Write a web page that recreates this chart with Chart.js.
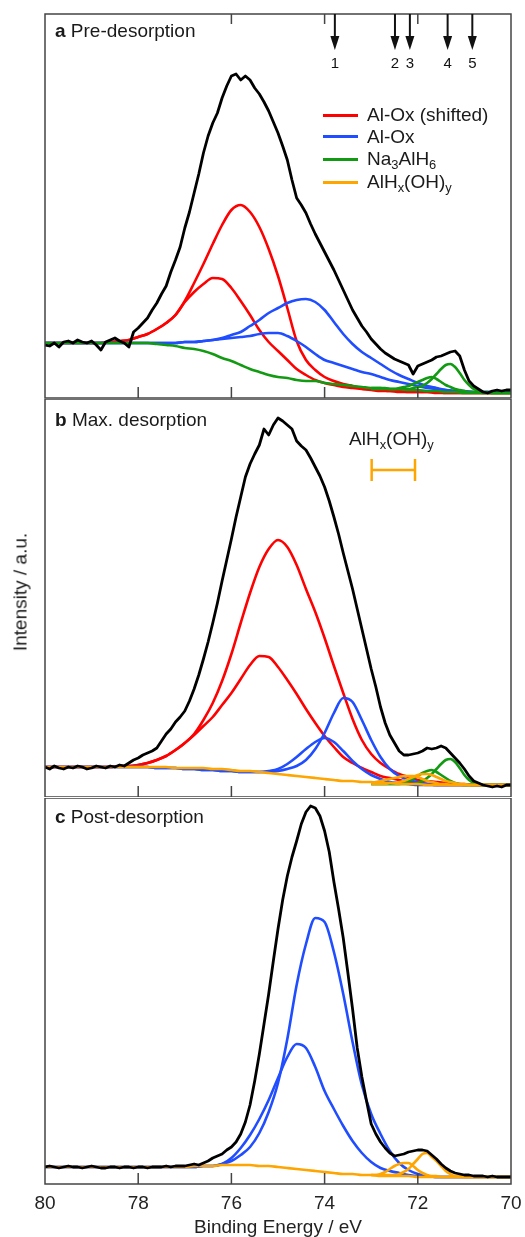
<!DOCTYPE html>
<html>
<head>
<meta charset="utf-8">
<script src="https://cdn.jsdelivr.net/npm/chart.js@4.4.1/dist/chart.umd.min.js"></script>
<style>
  body { margin: 0; background: #fff; }
  #fig { position: relative; width: 525px; height: 1237px; overflow: hidden;
         font-family: "Liberation Sans", Arial, sans-serif; color: #1a1a1a; }
  #fig canvas { position: absolute; left: 0; }
  .lbl { position: absolute; font-size: 19px; line-height: 19px; white-space: nowrap; }
  .lbl sub { font-size: 0.68em; vertical-align: -0.3em; line-height: 0; }
  .key { position: absolute; left: 323px; width: 35px; height: 3px; }
  #ytitle { position: absolute; left: 20px; top: 592px; transform: translate(-50%, -50%) rotate(-90deg); }
</style>
</head>
<body>
<div id="fig">
  <canvas id="panelA" width="525" height="399" style="top:0px"></canvas>
  <canvas id="panelB" width="525" height="398" style="top:399px"></canvas>
  <canvas id="panelC" width="525" height="439" style="top:798px"></canvas>

  <div class="lbl" style="left:55px;top:21px"><b>a</b> Pre-desorption</div>
  <div class="lbl" style="left:55px;top:410px"><b>b</b> Max. desorption</div>
  <div class="lbl" style="left:55px;top:807px"><b>c</b> Post-desorption</div>

  <div class="key" style="top:114px;background:#ff0000"></div>
  <div class="key" style="top:135px;background:#1f4dff"></div>
  <div class="key" style="top:158px;background:#139a13"></div>
  <div class="key" style="top:181px;background:#ffa500"></div>
  <div class="lbl" style="left:367px;top:105px">Al-Ox (shifted)</div>
  <div class="lbl" style="left:367px;top:127px">Al-Ox</div>
  <div class="lbl" style="left:367px;top:149px">Na<sub>3</sub>AlH<sub>6</sub></div>
  <div class="lbl" style="left:367px;top:172px">AlH<sub>x</sub>(OH)<sub>y</sub></div>

  <div class="lbl" style="left:349px;top:429px">AlH<sub>x</sub>(OH)<sub>y</sub></div>
  <div class="lbl" id="ytitle">Intensity / a.u.</div>
</div>

<script>
// binding energies (eV)
const spectrumE = [
  80.0, 79.9, 79.8, 79.7, 79.6, 79.5, 79.4, 79.3, 79.2, 79.1,
  79.0, 78.9, 78.8, 78.7, 78.6, 78.5, 78.4, 78.3, 78.2, 78.1,
  78.0, 77.9, 77.8, 77.7, 77.6, 77.5, 77.4, 77.3, 77.2, 77.1,
  77.0, 76.9, 76.8, 76.7, 76.6, 76.5, 76.4, 76.3, 76.2, 76.1,
  76.0, 75.9, 75.8, 75.7, 75.6, 75.5, 75.4, 75.3, 75.2, 75.1,
  75.0, 74.9, 74.8, 74.7, 74.6, 74.5, 74.4, 74.3, 74.2, 74.1,
  74.0, 73.9, 73.8, 73.7, 73.6, 73.5, 73.4, 73.3, 73.2, 73.1,
  73.0, 72.9, 72.8, 72.7, 72.6, 72.5, 72.4, 72.3, 72.2, 72.1,
  72.0, 71.9, 71.8, 71.7, 71.6, 71.5, 71.4, 71.3, 71.2, 71.1,
  71.0, 70.9, 70.8, 70.7, 70.6, 70.5, 70.4, 70.3, 70.2, 70.1,
  70.0
];
const fitE = [
  80.0, 79.8, 79.6, 79.4, 79.2, 79.0, 78.8, 78.6, 78.4, 78.2,
  78.0, 77.8, 77.6, 77.4, 77.2, 77.0, 76.8, 76.6, 76.4, 76.2,
  76.0, 75.8, 75.6, 75.4, 75.2, 75.0, 74.8, 74.6, 74.4, 74.2,
  74.0, 73.8, 73.6, 73.4, 73.2, 73.0, 72.8, 72.6, 72.4, 72.2,
  72.0, 71.8, 71.6, 71.4, 71.2, 71.0, 70.8, 70.6, 70.4, 70.2,
  70.0
];
const tailE = [
  73.0, 72.9, 72.8, 72.7, 72.6, 72.5, 72.4, 72.3, 72.2, 72.1,
  72.0, 71.9, 71.8, 71.7, 71.6, 71.5, 71.4, 71.3, 71.2, 71.1,
  71.0, 70.9, 70.8, 70.7, 70.6, 70.5, 70.4, 70.3, 70.2, 70.1,
  70.0
];

// a: pre-desorption
const measuredA = [
  53, 52, 55, 51, 56, 57, 55, 58, 56, 55,
  57, 53, 48, 56, 58, 60, 57, 55, 51, 66,
  70, 75, 80, 88, 95, 104, 112, 126, 138, 151,
  170, 186, 205, 224, 245, 262, 275, 285, 300, 312,
  322, 324, 318, 322, 318, 310, 304, 296, 287, 276,
  265, 252, 238, 218, 200, 193, 185, 174, 164, 155,
  146, 137, 128, 118, 108, 98, 88, 80, 72, 66,
  59, 54, 49, 45, 42, 39, 37, 35, 33, 24,
  32, 34, 36, 38, 41, 42, 44, 46, 47, 42,
  28, 17, 12, 9, 6, 5, 7, 8, 7, 8,
  8
];
const shifted1A = [
  55, 55, 55, 55, 55, 55, 55, 56, 57, 58,
  61, 64, 69, 75, 83, 97, 115, 134, 154, 173,
  188, 193, 186, 171, 149, 122, 90, 57, 38, 28,
  21, 17, 14, 12, 10, 9, 8, 7, 7, 6,
  6, 6, 6, 5, 5, 5, 5, 5, 5, 5,
  5
];
const shifted2A = [
  55, 55, 55, 55, 55, 55, 55, 56, 57, 58,
  61, 64, 69, 75, 83, 96, 106, 114, 120, 119,
  110, 97, 83, 68, 56, 47, 38, 29, 23, 18,
  15, 13, 11, 10, 9, 8, 7, 7, 6, 6,
  6, 6, 5, 5, 5, 5, 5, 5, 5, 5,
  5
];
const oxide1A = [
  55, 55, 55, 55, 55, 55, 55, 55, 55, 55,
  55, 55, 55, 55, 55, 56, 56, 57, 58, 60,
  63, 66, 72, 78, 85, 90, 95, 98, 99, 96,
  88, 76, 64, 54, 46, 40, 34, 28, 23, 19,
  15, 12, 10, 8, 7, 6, 6, 6, 6, 6,
  6
];
const oxide2A = [
  55, 55, 55, 55, 55, 55, 55, 55, 55, 55,
  55, 55, 55, 55, 55, 56, 56, 57, 58, 59,
  60, 61, 62, 64, 65, 65, 62, 57, 51, 44,
  38, 35, 32, 29, 26, 24, 21, 18, 16, 14,
  12, 10, 9, 8, 7, 7, 6, 6, 6, 6,
  6
];
const alanateBroadA = [
  55, 55, 55, 55, 55, 55, 55, 55, 55, 55,
  55, 55, 54, 53, 52, 50, 49, 47, 44, 40,
  37, 33, 29, 26, 23, 21, 20, 18, 17, 17,
  15, 14, 13, 12, 11, 10, 10, 9, 9, 8,
  8, 7, 7, 6, 6, 5, 5, 5, 5, 5,
  5
];
const alanate1A = [10, 10, 10, 10, 9, 9, 10, 11, 12, 14, 16, 18, 20, 21, 19, 16, 13, 11, 9, 8, 7, 6, 6, 6, 5, 5, 5, 5, 5, 5, 5];
const alanate2A = [9, 9, 9, 9, 9, 9, 9, 9, 9, 10, 11, 12, 15, 19, 24, 29, 33, 34, 31, 25, 18, 13, 9, 7, 6, 6, 5, 5, 5, 5, 5];

// b: max. desorption
const measuredB = [
  30, 28, 31, 29, 28, 30, 29, 31, 30, 28,
  29, 31, 30, 29, 31, 30, 32, 31, 34, 37,
  39, 42, 44, 46, 49, 56, 63, 68, 75, 80,
  86, 96, 108, 122, 138, 155, 174, 194, 216, 237,
  258, 280, 300, 320, 333, 343, 352, 368, 362, 372,
  379, 376, 372, 368, 356, 351, 347, 339, 330, 321,
  310, 296, 280, 263, 244, 226, 208, 188, 168, 148,
  128, 110, 90, 74, 62, 54, 46, 42, 42, 43,
  44, 46, 49, 48, 49, 51, 49, 44, 39, 34,
  28, 21, 16, 14, 12, 11, 10, 11, 10, 12,
  12
];
const shifted1B = [
  30, 30, 30, 30, 30, 30, 30, 30, 31, 31,
  32, 34, 37, 41, 47, 54, 63, 77, 94, 116,
  143, 174, 204, 230, 248, 257, 250, 232, 208, 185,
  159, 131, 104, 78, 57, 43, 34, 28, 23, 20,
  17, 16, 15, 14, 13, 13, 12, 12, 12, 12,
  12
];
const shifted2B = [
  30, 30, 30, 30, 30, 30, 30, 30, 31, 31,
  32, 34, 37, 41, 47, 54, 62, 71, 80, 92,
  104, 118, 132, 141, 140, 130, 117, 103, 88, 74,
  61, 50, 40, 34, 29, 25, 21, 19, 17, 15,
  14, 13, 12, 12, 12, 12, 12, 12, 12, 12,
  12
];
const oxide1B = [
  30, 30, 30, 30, 30, 30, 30, 30, 30, 30,
  30, 30, 29, 29, 29, 28, 28, 27, 27, 26,
  26, 25, 25, 25, 25, 26, 28, 31, 37, 48,
  64, 84, 99, 95, 77, 57, 40, 28, 21, 17,
  15, 13, 12, 12, 12, 12, 12, 12, 12, 12,
  12
];
const oxide2B = [
  30, 30, 30, 30, 30, 30, 30, 30, 30, 30,
  30, 30, 29, 29, 29, 28, 28, 27, 27, 26,
  26, 25, 25, 25, 26, 28, 33, 40, 48, 55,
  59, 55, 46, 36, 28, 22, 18, 15, 14, 13,
  12, 12, 12, 12, 12, 12, 12, 12, 12, 12,
  12
];
const hydroxideBroadB = [
  30, 30, 30, 30, 30, 30, 30, 30, 30, 30,
  30, 30, 30, 30, 29, 29, 29, 29, 28, 28,
  27, 26, 26, 25, 24, 23, 22, 21, 20, 19,
  18, 17, 16, 16, 15, 15, 14, 14, 13, 13,
  13, 12, 12, 12, 12, 12, 12, 12, 12, 12,
  12
];
const hydroxide1B = [14, 15, 16, 17, 18, 19, 20, 21, 21, 21, 20, 18, 16, 15, 14, 13, 13, 12, 12, 12, 12, 12, 12, 12, 12, 12, 12, 12, 12, 12, 12];
const hydroxide2B = [13, 13, 13, 13, 14, 14, 15, 16, 18, 20, 22, 23, 23, 22, 20, 18, 16, 15, 14, 13, 13, 12, 12, 12, 12, 12, 12, 12, 12, 12, 12];
const alanate1B = [13, 13, 13, 13, 13, 13, 13, 14, 16, 18, 21, 24, 26, 27, 25, 22, 19, 16, 14, 13, 12, 12, 12, 12, 12, 12, 12, 12, 12, 12, 12];
const alanate2B = [13, 13, 13, 13, 13, 13, 13, 13, 13, 13, 14, 16, 19, 23, 28, 33, 37, 38, 35, 29, 22, 17, 14, 13, 12, 12, 12, 12, 12, 12, 12];

// c: post-desorption
const measuredC = [
  17, 18, 17, 16, 17, 18, 17, 17, 16, 17,
  18, 17, 16, 16, 17, 17, 16, 17, 17, 16,
  17, 17, 16, 17, 17, 17, 18, 17, 18, 18,
  18, 19, 20, 19, 21, 23, 26, 28, 30, 34,
  37, 42, 50, 62, 79, 103, 130, 160, 190, 223,
  255, 284, 308, 327, 343, 360, 372, 378, 376, 368,
  353, 332, 302, 275, 246, 211, 175, 136, 107, 83,
  60, 50, 42, 36, 31, 28, 29, 30, 32, 33,
  34, 34, 33, 29, 25, 20, 16, 13, 11, 10,
  9, 9, 8, 8, 8, 7, 8, 7, 7, 7,
  7
];
const oxide1C = [
  17, 17, 17, 17, 17, 17, 17, 17, 17, 17,
  17, 17, 17, 17, 17, 17, 17, 18, 18, 20,
  23, 29, 37, 51, 72, 101, 145, 199, 240, 266,
  262, 232, 190, 142, 99, 70, 50, 33, 21, 14,
  10, 8, 7, 7, 7, 7, 7, 7, 7, 7,
  7
];
const oxide2C = [
  17, 17, 17, 17, 17, 17, 17, 17, 17, 17,
  17, 17, 17, 17, 17, 17, 17, 18, 18, 20,
  26, 36, 49, 65, 84, 106, 127, 140, 136, 117,
  93, 75, 58, 43, 31, 22, 16, 13, 11, 9,
  8, 8, 7, 7, 7, 7, 7, 7, 7, 7,
  7
];
const hydroxideBroadC = [
  17, 17, 17, 17, 17, 17, 17, 17, 17, 17,
  17, 17, 17, 17, 17, 17, 18, 18, 18, 19,
  19, 19, 19, 18, 18, 17, 16, 15, 14, 13,
  12, 11, 10, 10, 9, 9, 8, 8, 8, 8,
  7, 7, 7, 7, 7, 7, 7, 7, 7, 7,
  7
];
const hydroxide1C = [9, 9, 10, 12, 15, 18, 20, 21, 21, 18, 14, 11, 9, 8, 8, 7, 7, 7, 7, 7, 7, 7, 7, 7, 7, 7, 7, 7, 7, 7, 7];
const hydroxide2C = [9, 9, 9, 9, 9, 9, 10, 12, 15, 20, 25, 30, 31, 27, 23, 18, 13, 10, 8, 8, 7, 7, 7, 7, 7, 7, 7, 7, 7, 7, 7];

// axis and annotations
const tickEnergies = [80, 78, 76, 74, 72, 70];
const innerTickEnergies = [78, 76, 74, 72];
const topTickEnergies = [76, 74, 72];
const arrowEnergies = [73.78, 72.49, 72.17, 71.36, 70.83];
const arrowLabels = ['1', '2', '3', '4', '5'];
const hydroxideRange = [72.99, 72.06];
const hydroxideLevel = 327;

const colors = {
  measured: '#000000',
  shifted: '#ff0000',
  oxide: '#1f4dff',
  alanate: '#139a13',
  hydroxide: '#ffa500'
};

Chart.defaults.font.family = '"Liberation Sans", Arial, sans-serif';
Chart.defaults.color = '#222';

function line(label, energies, values, color, order) {
  const measured = color === colors.measured;
  return {
    label: label,
    data: energies.map((e, i) => ({ x: e, y: values[i] })),
    borderColor: color,
    borderWidth: measured ? 2.8 : 2.6,
    borderJoinStyle: 'round',
    pointRadius: 0,
    fill: false,
    order: order,
    cubicInterpolationMode: measured ? 'default' : 'monotone'
  };
}

// frame, inward ticks, arrows and the error bar
const decor = {
  id: 'decor',
  afterDatasetsDraw(chart, args, opts) {
    const { ctx, chartArea: a, scales: { x, y } } = chart;
    ctx.save();
    ctx.strokeStyle = '#444';
    ctx.lineWidth = 1.5;
    ctx.strokeRect(a.left, a.top, a.right - a.left, a.bottom - a.top);
    ctx.beginPath();
    innerTickEnergies.forEach(v => {
      const px = x.getPixelForValue(v);
      ctx.moveTo(px, a.bottom);
      ctx.lineTo(px, a.bottom - 11);
    });
    if (opts.topTicks) {
      topTickEnergies.forEach(v => {
        const px = x.getPixelForValue(v);
        ctx.moveTo(px, a.top);
        ctx.lineTo(px, a.top + 10);
      });
    }
    ctx.stroke();

    if (opts.arrows) {
      ctx.strokeStyle = '#111';
      ctx.fillStyle = '#111';
      ctx.lineWidth = 2;
      ctx.font = '15px "Liberation Sans", Arial, sans-serif';
      ctx.textAlign = 'center';
      ctx.textBaseline = 'middle';
      arrowEnergies.forEach((e, i) => {
        const px = x.getPixelForValue(e);
        ctx.beginPath();
        ctx.moveTo(px, a.top);
        ctx.lineTo(px, a.top + 24);
        ctx.stroke();
        ctx.beginPath();
        ctx.moveTo(px - 4.5, a.top + 22);
        ctx.lineTo(px + 4.5, a.top + 22);
        ctx.lineTo(px, a.top + 36);
        ctx.closePath();
        ctx.fill();
        ctx.fillText(arrowLabels[i], px, a.top + 50);
      });
    }

    if (opts.errorBar) {
      const x1 = x.getPixelForValue(hydroxideRange[0]);
      const x2 = x.getPixelForValue(hydroxideRange[1]);
      const py = y.getPixelForValue(hydroxideLevel);
      ctx.strokeStyle = colors.hydroxide;
      ctx.lineWidth = 2.5;
      ctx.beginPath();
      ctx.moveTo(x1, py); ctx.lineTo(x2, py);
      ctx.moveTo(x1, py - 11); ctx.lineTo(x1, py + 11);
      ctx.moveTo(x2, py - 11); ctx.lineTo(x2, py + 11);
      ctx.stroke();
    }
    ctx.restore();
  }
};

function makePanel(id, yMax, padding, datasets, decorOpts, showAxis) {
  const xScale = {
    type: 'linear', min: 70, max: 80, reverse: true,
    display: showAxis,
    afterBuildTicks: s => { s.ticks = tickEnergies.map(v => ({ value: v })); },
    grid: { display: false, drawTicks: false },
    border: { display: false },
    ticks: { padding: 8, color: '#222', font: { size: 19 } },
    title: { display: showAxis, text: 'Binding Energy / eV', color: '#222',
             font: { size: 19 }, padding: { top: 0, bottom: -2 } }
  };
  if (showAxis) {
    xScale.afterFit = s => {
      s.height = 53;
      s.paddingLeft = 0;
      s.paddingRight = 0;
    };
  }
  return new Chart(document.getElementById(id), {
    type: 'line',
    data: { datasets: datasets },
    options: {
      responsive: false,
      animation: false,
      events: [],
      layout: { padding: padding },
      scales: {
        x: xScale,
        y: { type: 'linear', min: 0, max: yMax, display: false }
      },
      plugins: { legend: { display: false }, tooltip: { enabled: false }, decor: decorOpts }
    },
    plugins: [decor]
  });
}

makePanel('panelA', 384, { left: 45, right: 14, top: 14, bottom: 1 }, [
  line('Measured', spectrumE, measuredA, colors.measured, 0),
  line('Na3AlH6', tailE, alanate1A, colors.alanate, 2),
  line('Na3AlH6', tailE, alanate2A, colors.alanate, 2),
  line('Na3AlH6', fitE, alanateBroadA, colors.alanate, 2),
  line('Al-Ox', fitE, oxide1A, colors.oxide, 3),
  line('Al-Ox', fitE, oxide2A, colors.oxide, 3),
  line('Al-Ox (shifted)', fitE, shifted1A, colors.shifted, 4),
  line('Al-Ox (shifted)', fitE, shifted2A, colors.shifted, 4)
], { topTicks: true, arrows: true }, false);

makePanel('panelB', 398, { left: 45, right: 14, top: 0, bottom: 0 }, [
  line('Measured', spectrumE, measuredB, colors.measured, 0),
  line('AlHx(OH)y', tailE, hydroxide1B, colors.hydroxide, 1),
  line('AlHx(OH)y', tailE, hydroxide2B, colors.hydroxide, 1),
  line('AlHx(OH)y', fitE, hydroxideBroadB, colors.hydroxide, 1),
  line('Na3AlH6', tailE, alanate1B, colors.alanate, 2),
  line('Na3AlH6', tailE, alanate2B, colors.alanate, 2),
  line('Al-Ox', fitE, oxide1B, colors.oxide, 3),
  line('Al-Ox', fitE, oxide2B, colors.oxide, 3),
  line('Al-Ox (shifted)', fitE, shifted1B, colors.shifted, 4),
  line('Al-Ox (shifted)', fitE, shifted2B, colors.shifted, 4)
], { errorBar: true }, false);

makePanel('panelC', 386, { left: 45, right: 14, top: 0, bottom: 0 }, [
  line('Measured', spectrumE, measuredC, colors.measured, 0),
  line('AlHx(OH)y', tailE, hydroxide1C, colors.hydroxide, 1),
  line('AlHx(OH)y', tailE, hydroxide2C, colors.hydroxide, 1),
  line('AlHx(OH)y', fitE, hydroxideBroadC, colors.hydroxide, 1),
  line('Al-Ox', fitE, oxide1C, colors.oxide, 3),
  line('Al-Ox', fitE, oxide2C, colors.oxide, 3)
], {}, true);
</script>
</body>
</html>
